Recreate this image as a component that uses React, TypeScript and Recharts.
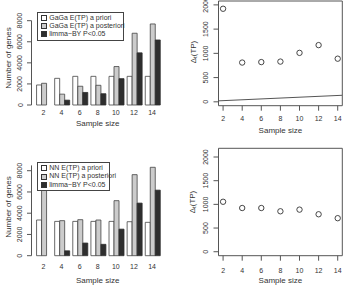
import React from 'react';
import { BarChart, Bar, XAxis, YAxis, Legend, ComposedChart, Scatter, Line, ReferenceArea, Label } from 'recharts';

const sampleSizes = [2, 4, 6, 8, 10, 12, 14];
const gagaPrior = [1900, 2530, 2720, 2720, 2720, 2720, 2720];
const gagaPosterior = [2060, 1030, 1780, 1870, 3650, 6810, 7690];
const limmaBY = [0, 460, 1190, 1070, 2500, 4950, 6170];
const nnPrior = [3360, 3230, 3230, 3230, 3230, 3200, 3140];
const nnPosterior = [6400, 3300, 3390, 3360, 5180, 7630, 8320];
const gagaDelta = [1920, 810, 820, 830, 1010, 1170, 890];
const nnDelta = [1055, 923, 923, 854, 889, 791, 708];
const refLineX = [1.52, 14.48];
const refLineY = [20, 135];
const barTicks = [0, 2000, 4000, 6000, 8000];
const deltaTicks = [0, 500, 1000, 1500, 2000];
const gagaNames = ['GaGa E(TP) a priori', 'GaGa E(TP) a posteriori', 'limma\u2212BY P<0.05'];
const nnNames = ['NN E(TP) a priori', 'NN E(TP) a posteriori', 'limma\u2212BY P<0.05'];

const FONT = '"Liberation Sans", Arial, sans-serif';
const TXT = '#333';
const AX = '#555';

const xTick = (off: number) => (p: any) => (
  <text x={p.x} y={p.y + off} textAnchor="middle" dominantBaseline="central" fontSize={7} fill={TXT} fontFamily={FONT}>
    {p.payload.value}
  </text>
);

const yTick = (off: number) => (p: any) => {
  const x = p.x - off;
  return (
    <text x={x} y={p.y} transform={`rotate(-90 ${x} ${p.y})`} textAnchor="middle" dominantBaseline="central" fontSize={7} fill={TXT} fontFamily={FONT}>
      {p.payload.value}
    </text>
  );
};

const xTitle = (off: number) => (p: any) => {
  const vb = p.viewBox || {};
  return (
    <text x={vb.x + vb.width / 2} y={vb.y + off} textAnchor="middle" dominantBaseline="central" fontSize={8} fill={TXT} fontFamily={FONT}>
      Sample size
    </text>
  );
};

const yTitleGenes = (cx: number, cy: number) => () => (
  <text x={cx} y={cy} transform={`rotate(-90 ${cx} ${cy})`} textAnchor="middle" dominantBaseline="central" fontSize={8} fill={TXT} fontFamily={FONT}>
    Number of genes
  </text>
);

const yTitleDelta = (cx: number, cy: number) => () => (
  <text x={cx} y={cy} transform={`rotate(-90 ${cx} ${cy})`} textAnchor="middle" dominantBaseline="central" fontSize={8} fill={TXT} fontFamily={FONT}>
    <tspan>Δ</tspan>
    <tspan dy={2} fontSize={6}>t</tspan>
    <tspan dy={-2}>(TP)</tspan>
  </text>
);

const legendContent = (width: number, names: string[]) => (props: any) => {
  const payload = [...(props.payload || [])].sort(
    (a: any, b: any) => names.indexOf(a.value) - names.indexOf(b.value)
  );
  return (
    <div
      style={{
        width,
        border: '1px solid #444',
        background: '#fff',
        padding: '1px 0 1px 3px',
        boxSizing: 'border-box',
        fontFamily: FONT,
        fontSize: 7,
        color: TXT,
        lineHeight: '8.2px',
        whiteSpace: 'nowrap',
        overflow: 'visible',
      }}
    >
      {payload.map((e: any, i: number) => (
        <div key={i} style={{ display: 'flex', alignItems: 'center', height: 8.2 }}>
          <span
            style={{
              display: 'inline-block',
              flex: '0 0 auto',
              width: 4,
              height: 4,
              background: e.color,
              border: '0.8px solid #333',
              marginRight: 2.5,
            }}
          />
          <span style={{ color: TXT, flex: '0 0 auto' }}>{e.value}</span>
        </div>
      ))}
    </div>
  );
};

function BarPanel(props: {
  prior: number[];
  posterior: number[];
  names: string[];
  plotTop: number;
  plotH: number;
  yMax: number;
  tickOff: number;
  titleOff: number;
  yTitleY: number;
  legendTop: number;
  legendW: number;
}) {
  const { prior, posterior, names, plotTop, plotH, yMax, tickOff, titleOff, yTitleY, legendTop, legendW } = props;
  const data = sampleSizes.map((s, i) => ({ size: String(s), prior: prior[i], posterior: posterior[i], limma: limmaBY[i] }));
  const H = 144;
  return (
    <BarChart
      width={175}
      height={H}
      data={data}
      margin={{ top: plotTop, right: 11.1, bottom: 0, left: 0 }}
      barCategoryGap="12.5%"
      barGap={0}
    >
      <XAxis
        dataKey="size"
        height={H - plotTop - plotH}
        padding={{ left: 2.8, right: 2.8 }}
        axisLine={false}
        tickLine={false}
        tickSize={0}
        tickMargin={0}
        interval={0}
        tick={xTick(tickOff)}
      >
        <Label content={xTitle(titleOff)} />
      </XAxis>
      <YAxis
        width={31.5}
        domain={[0, yMax]}
        ticks={barTicks}
        interval={0}
        tickSize={4.5}
        tickMargin={0}
        axisLine={{ stroke: AX }}
        tickLine={{ stroke: AX }}
        tick={yTick(7)}
      >
        <Label content={yTitleGenes(8.3, yTitleY)} />
      </YAxis>
      <Legend
        layout="vertical"
        align="center"
        verticalAlign="middle"
        itemSorter={null as any}
        wrapperStyle={{ left: 36.7, top: legendTop, width: legendW }}
        content={legendContent(legendW, names)}
      />
      <Bar dataKey="prior" name={names[0]} fill="#ffffff" stroke="#444" strokeWidth={0.8} isAnimationActive={false} />
      <Bar dataKey="posterior" name={names[1]} fill="#cccccc" stroke="#444" strokeWidth={0.8} isAnimationActive={false} />
      <Bar dataKey="limma" name={names[2]} fill="#2e2e2e" stroke="#2e2e2e" strokeWidth={0.8} isAnimationActive={false} />
    </BarChart>
  );
}

const circle = (p: any) => <circle cx={p.cx} cy={p.cy} r={2.7} fill="none" stroke="#333" strokeWidth={0.9} />;

function DeltaPanel(props: {
  values: number[];
  showLine: boolean;
  plotTop: number;
  plotH: number;
  yDomain: [number, number];
  tickOff: number;
  titleOff: number;
  yTitleX: number;
  yTitleY: number;
}) {
  const { values, showLine, plotTop, plotH, yDomain, tickOff, titleOff, yTitleX, yTitleY } = props;
  const pts = sampleSizes.map((s, i) => ({ x: s, y: values[i] }));
  const line = refLineX.map((x, i) => ({ x, y: refLineY[i] }));
  const H = 144;
  const xDomain: [number, number] = [1.52, 14.48];
  return (
    <ComposedChart width={172} height={H} margin={{ top: plotTop, right: 4.7, bottom: 0, left: 0 }}>
      <XAxis
        type="number"
        dataKey="x"
        domain={xDomain}
        allowDataOverflow
        ticks={sampleSizes}
        interval={0}
        height={H - plotTop - plotH}
        axisLine={false}
        tickLine={{ stroke: AX }}
        tickSize={5}
        tickMargin={0}
        tick={xTick(tickOff)}
      >
        <Label content={xTitle(titleOff)} />
      </XAxis>
      <YAxis
        type="number"
        domain={yDomain}
        allowDataOverflow
        ticks={deltaTicks}
        interval={0}
        width={43.5}
        axisLine={false}
        tickLine={{ stroke: AX }}
        tickSize={5}
        tickMargin={0}
        tick={yTick(7.8)}
      >
        <Label content={yTitleDelta(yTitleX, yTitleY)} />
      </YAxis>
      <ReferenceArea x1={xDomain[0]} x2={xDomain[1]} y1={yDomain[0]} y2={yDomain[1]} fill="none" stroke={AX} strokeWidth={1} fillOpacity={0} ifOverflow="visible" />
      {showLine && (
        <Line data={line} dataKey="y" type="linear" dot={false} stroke="#555" strokeWidth={1} isAnimationActive={false} />
      )}
      <Scatter data={pts} dataKey="y" shape={circle} isAnimationActive={false} />
    </ComposedChart>
  );
}

export default function App() {
  return (
    <div style={{ position: 'absolute', left: 0, top: 0, width: 347, height: 288, background: '#fff', overflow: 'hidden' }}>
      <div style={{ position: 'absolute', left: 0, top: 0 }}>
        <BarPanel
          prior={gagaPrior}
          posterior={gagaPosterior}
          names={gagaNames}
          plotTop={20.7}
          plotH={84.3}
          yMax={8000}
          tickOff={7.5}
          titleOff={18}
          yTitleY={58}
          legendTop={12}
          legendW={87}
        />
      </div>
      <div style={{ position: 'absolute', left: 175, top: 0 }}>
        <DeltaPanel
          values={gagaDelta}
          showLine
          plotTop={1}
          plotH={104.7}
          yDomain={[-80, 2080]}
          tickOff={7.6}
          titleOff={24.3}
          yTitleX={18}
          yTitleY={52}
        />
      </div>
      <div style={{ position: 'absolute', left: 0, top: 144 }}>
        <BarPanel
          prior={nnPrior}
          posterior={nnPosterior}
          names={nnNames}
          plotTop={21.4}
          plotH={90.3}
          yMax={8500}
          tickOff={11}
          titleOff={25}
          yTitleY={63}
          legendTop={18.3}
          legendW={73}
        />
      </div>
      <div style={{ position: 'absolute', left: 175, top: 144 }}>
        <DeltaPanel
          values={nnDelta}
          showLine={false}
          plotTop={4.3}
          plotH={107.4}
          yDomain={[-84, 2184]}
          tickOff={9.3}
          titleOff={25}
          yTitleX={16.7}
          yTitleY={58}
        />
      </div>
    </div>
  );
}
